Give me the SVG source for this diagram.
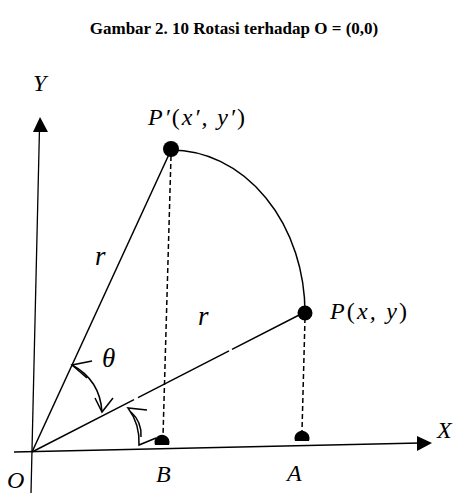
<svg xmlns="http://www.w3.org/2000/svg" width="457" height="495" viewBox="0 0 457 495">
<style>
.ln{stroke:#000;stroke-width:1.5;fill:none}
.ax{stroke:#000;stroke-width:1.3;fill:none}
.ds{stroke:#000;stroke-width:1.5;fill:none;stroke-dasharray:5,3}
.dot{fill:#000}
.lbl{font-family:"Liberation Serif","DejaVu Serif",serif;font-style:italic;font-size:24px;fill:#000}
.big{font-size:27px}
.up{font-style:normal}
.title{font-family:"Liberation Serif","Times New Roman",serif;font-weight:bold;font-size:17px;fill:#000}
</style>
<rect width="457" height="495" fill="#fff"/>
<text class="title" x="234" y="34" text-anchor="middle">Gambar 2. 10 Rotasi terhadap O = (0,0)</text>
<g id="connectors">
<line class="ax" x1="31" y1="493" x2="39.5" y2="128"/>
<polygon points="40,117 33,132 48,132" fill="#000"/>
<line class="ax" x1="14" y1="452" x2="420" y2="443"/>
<polygon points="432,443 417,436 417,451" fill="#000"/>
<line class="ln" x1="32" y1="452" x2="171" y2="150"/>
<path class="ln" d="M32,452 L134,399.6 M138,397.6 L229,350.9 M232,349.4 L305,312"/>
<path class="ln" d="M171,150 A134 163 0 0 1 305,313"/>
<line class="ds" x1="171" y1="156" x2="163" y2="436"/>
<line class="ds" x1="305" y1="318" x2="302" y2="431"/>
<path class="ln" d="M72,365 Q100,380 102,412"/>
<path class="ln" d="M92,361 L72,365 L87,378"/>
<path class="ln" d="M95,398 L102,412 L113,398"/>
<path class="ln" d="M147,410 L128,408 Q140,424 139,445 L156,438"/>
<path class="ln" d="M131,412 Q142,422 141,437"/>
</g>
<g id="node-P1"><circle class="dot" cx="171" cy="149" r="8"/><text class="lbl" x="148" y="125" textLength="97" lengthAdjust="spacing">P′<tspan class="up">(</tspan>x′, y′<tspan class="up">)</tspan></text></g>
<g id="node-P"><circle class="dot" cx="305" cy="313" r="7.5"/><text class="lbl" x="330" y="319" textLength="77" lengthAdjust="spacing">P<tspan class="up">(</tspan>x, y<tspan class="up">)</tspan></text></g>
<g id="node-A"><path class="dot" d="M295,441 A7.5 7.5 0 1 1 309,441 Z"/><text class="lbl" x="287" y="481">A</text></g>
<g id="node-B"><path class="dot" d="M155,445 A7.5 7.5 0 1 1 169,445 Z"/><text class="lbl" x="156" y="482">B</text></g>
<g id="node-O"><text class="lbl" x="7" y="488">O</text></g>
<g id="labels">
<text class="lbl" x="33" y="91">Y</text>
<text class="lbl" x="437" y="438">X</text>
<text class="lbl big" x="95" y="265">r</text>
<text class="lbl big" x="198" y="325">r</text>
<text class="lbl big" x="102" y="367">θ</text>
</g>
</svg>
